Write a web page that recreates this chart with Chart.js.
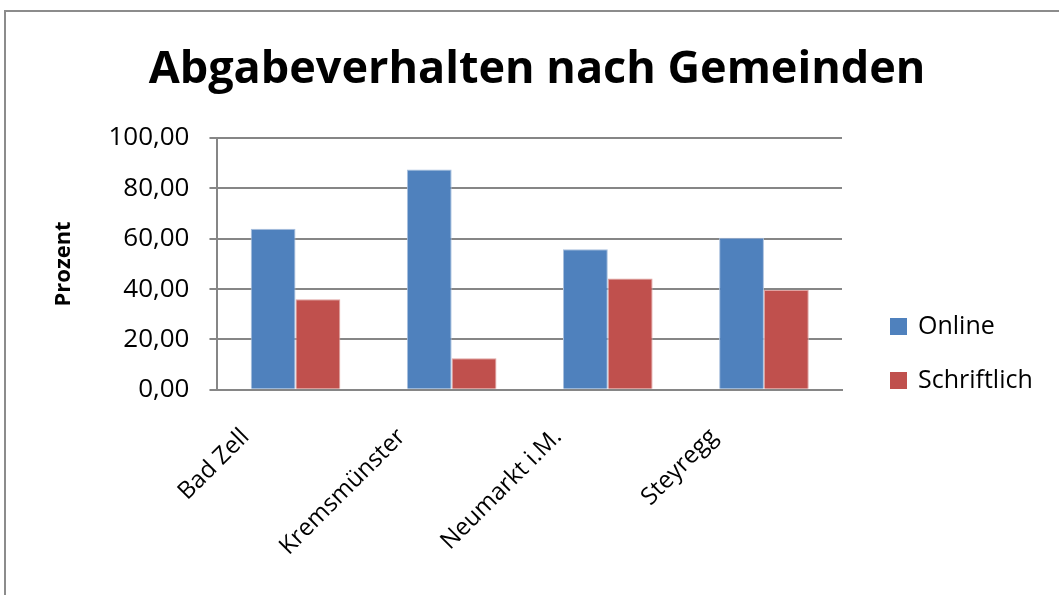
<!DOCTYPE html>
<html>
<head>
<meta charset="utf-8">
<script src="https://cdn.jsdelivr.net/npm/chart.js@4/dist/chart.umd.min.js"></script>
<style>
  html, body { margin: 0; padding: 0; background: #fff; }
  canvas { display: block; }
</style>
</head>
<body>
<canvas id="chart" width="1059" height="595"></canvas>
<script>
// values
const categories = ['Bad Zell', 'Kremsmünster', 'Neumarkt i.M.', 'Steyregg'];
const online = [64.0, 87.5, 55.8, 60.4];
const schriftlich = [36.0, 12.5, 44.2, 39.6];
const seriesNames = ['Online', 'Schriftlich'];
const seriesColors = ['#4F81BD', '#C0504D'];
const chartTitle = 'Abgabeverhalten nach Gemeinden';

const FONT = '"Open Sans", "DejaVu Sans", sans-serif';
const GRID = '#868686';

// grey frame round the chart (cut at right and bottom like the picture)
// and the title, centred on the whole frame rather than the plot
const framePlugin = {
  id: 'frame',
  beforeDraw(chart) {
    const ctx = chart.ctx;
    ctx.save();
    ctx.strokeStyle = '#8c8c8c';
    ctx.lineWidth = 2;
    ctx.strokeRect(5, 11, chart.width + 10, chart.height + 10);
    ctx.fillStyle = '#000';
    ctx.font = 'bold 45px ' + FONT;
    ctx.textAlign = 'center';
    ctx.textBaseline = 'middle';
    ctx.fillText(chartTitle, 537, 70);
    ctx.restore();
  }
};

// legend on the right, drawn from the datasets
const legendPlugin = {
  id: 'sideLegend',
  afterDraw(chart) {
    const ctx = chart.ctx;
    ctx.save();
    ctx.font = '25px ' + FONT;
    ctx.textBaseline = 'middle';
    chart.data.datasets.forEach((ds, i) => {
      const cy = 326 + i * 54;
      ctx.fillStyle = ds.backgroundColor;
      ctx.fillRect(890, cy - 8, 17, 17);
      ctx.fillStyle = '#000';
      ctx.fillText(ds.label, 918, cy + 1);
    });
    ctx.restore();
  }
};

const ctx = document.getElementById('chart').getContext('2d');
new Chart(ctx, {
  type: 'bar',
  data: {
    labels: categories,
    datasets: [
      { label: seriesNames[0], data: online, backgroundColor: seriesColors[0], borderColor: '#a9c0de', borderWidth: 1 },
      { label: seriesNames[1], data: schriftlich, backgroundColor: seriesColors[1], borderColor: '#e0a3a1', borderWidth: 1 }
    ]
  },
  options: {
    responsive: false,
    animation: false,
    categoryPercentage: 0.574,
    barPercentage: 1.0,
    layout: { padding: { left: 47, right: 217, top: 138, bottom: 1 } },
    plugins: {
      legend: { display: false },
      tooltip: { enabled: false },
      title: { display: false }
    },
    scales: {
      x: {
        grid: { display: false, drawTicks: false },
        border: { display: true, color: GRID, width: 2 },
        ticks: {
          color: '#000',
          font: { family: FONT, size: 24 },
          minRotation: 45,
          maxRotation: 45,
          padding: 33,
          labelOffset: -50
        }
      },
      y: {
        min: 0,
        max: 100,
        grid: { color: GRID, lineWidth: 2, tickLength: 8 },
        border: { display: true, color: GRID, width: 2 },
        ticks: {
          stepSize: 20,
          color: '#000',
          padding: 20,
          font: { family: FONT, size: 26 },
          callback: v => v.toFixed(2).replace('.', ',')
        },
        title: {
          display: true,
          text: 'Prozent',
          color: '#000',
          font: { family: FONT, size: 22, weight: 'bold' },
          padding: { top: 4, bottom: 11 }
        }
      }
    }
  },
  plugins: [framePlugin, legendPlugin]
});
</script>
</body>
</html>
